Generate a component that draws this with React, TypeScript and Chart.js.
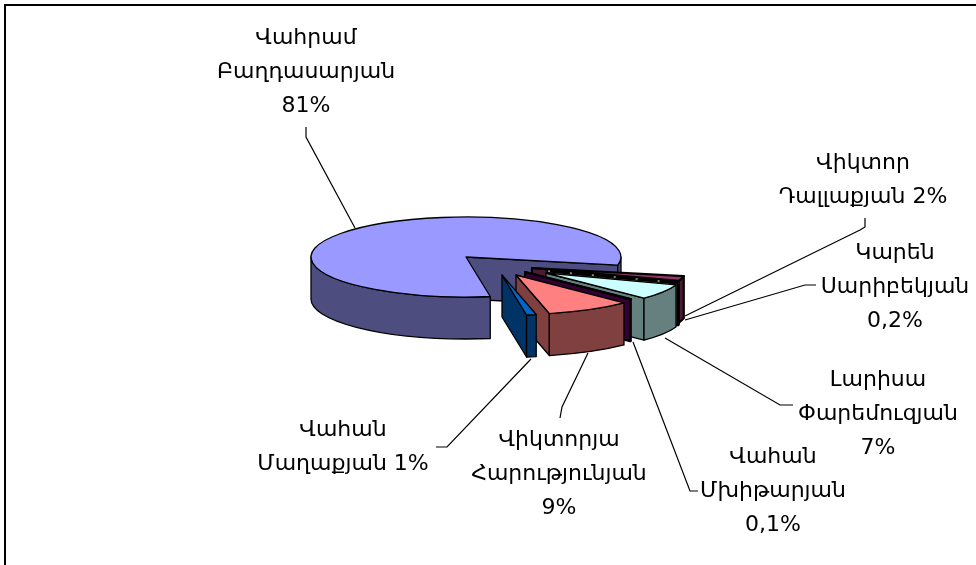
import React, { useEffect, useRef } from "react";
import { Chart, registerables } from "chart.js";

Chart.register(...registerables);

const categories = [
  "Վահրամ Բաղդասարյան",
  "Վիկտոր Դալլաքյան",
  "Կարեն Սարիբեկյան",
  "Լարիսա Փարեմուզյան",
  "Վահան Մխիթարյան",
  "Վիկտորյա Հարությունյան",
  "Վահան Մաղաքյան",
];
const shares = [81, 2, 0.2, 7, 0.1, 9, 1];
const topColors = ["#9999FF", "#993366", "#FFFFCC", "#CCFFFF", "#660066", "#FF8080", "#0066CC"];
const sideColors = ["#4D4D80", "#4D1A33", "#808066", "#668080", "#330033", "#804040", "#003366"];

const labelLines = [
  ["Վահրամ", "Բաղդասարյան", "81%"],
  ["Վիկտոր", "Դալլաքյան 2%"],
  ["Կարեն", "Սարիբեկյան", "0,2%"],
  ["Լարիսա", "Փարեմուզյան", "7%"],
  ["Վահան", "Մխիթարյան", "0,1%"],
  ["Վիկտորյա", "Հարությունյան", "9%"],
  ["Վահան", "Մաղաքյան 1%"],
];

// layout only
const labelCenters = [[306, 38], [863, 163], [895, 253], [878, 380], [773, 457], [559, 440], [343, 430]];
const leaders = [
  [[355, 228], [306, 137], [306, 127]],
  [[685, 316], [860, 230], [865, 227], [865, 218]],
  [[685, 320], [805, 285], [816, 285]],
  [[665, 338], [780, 405], [793, 405]],
  [[633, 342], [690, 491], [698, 491]],
  [[588, 353], [562, 407], [560, 418]],
  [[531, 359], [447, 447], [436, 447]],
];
const apexOffsets = [[0, 0], [66, 11], [82, 14], [80, 16], [59, 15], [50, 18], [36, 18]];
const radii = [155, 155, 138, 138, 149, 153, 157];
const strokeWidths = [1.3, 2.2, 2.6, 1.3, 2, 1.3, 1.3];
const TILT = 0.258;
const DEPTH = 42;

const pie3d = {
  id: "pie3d",
  beforeDatasetDraw(chart: any) {
    const ctx: CanvasRenderingContext2D = chart.ctx;
    const arcs = chart.getDatasetMeta(0).data;
    ctx.save();
    ctx.lineJoin = "round";
    ctx.strokeStyle = "#000";

    arcs.forEach((arc: any, i: number) => {
      ctx.lineWidth = strokeWidths[i];
      const cx = arc.x + apexOffsets[i][0];
      const cy = arc.y + apexOffsets[i][1];
      const R = radii[i];
      const a0 = arc.startAngle;
      const a1 = arc.endAngle;
      const pt = (a: number): [number, number] => [cx + R * Math.cos(a), cy + R * TILT * Math.sin(a)];

      const cut = (a: number) => {
        const p = pt(a);
        ctx.beginPath();
        ctx.moveTo(cx, cy);
        ctx.lineTo(p[0], p[1]);
        ctx.lineTo(p[0], p[1] + DEPTH);
        ctx.lineTo(cx, cy + DEPTH);
        ctx.closePath();
        ctx.fillStyle = sideColors[i];
        ctx.fill();
        ctx.stroke();
      };
      const rim = (a: number, b: number) => {
        ctx.beginPath();
        ctx.ellipse(cx, cy, R, R * TILT, 0, a, b);
        ctx.ellipse(cx, cy + DEPTH, R, R * TILT, 0, b, a, true);
        ctx.closePath();
        ctx.fillStyle = sideColors[i];
        ctx.fill();
        ctx.stroke();
      };

      if (Math.sin(a0 - Math.PI / 2) > 0) cut(a0);
      if (Math.sin(a1 + Math.PI / 2) > 0) cut(a1);
      [[-2 * Math.PI, -Math.PI], [0, Math.PI], [2 * Math.PI, 3 * Math.PI]].forEach(([lo, hi]) => {
        const a = Math.max(a0, lo);
        const b = Math.min(a1, hi);
        if (b > a) rim(a, b);
      });

      ctx.beginPath();
      ctx.moveTo(cx, cy);
      ctx.ellipse(cx, cy, R, R * TILT, 0, a0, a1);
      ctx.closePath();
      ctx.fillStyle = topColors[i];
      ctx.fill();
      ctx.stroke();

      if (i === 2) {
        const p = pt((a0 + a1) / 2);
        ctx.save();
        ctx.strokeStyle = "#A8A880";
        ctx.lineWidth = 1.5;
        ctx.setLineDash([2, 20]);
        ctx.beginPath();
        ctx.moveTo(cx, cy);
        ctx.lineTo(p[0], p[1]);
        ctx.stroke();
        ctx.restore();
      }
    });
    ctx.restore();
    return false;
  },
  afterDatasetsDraw(chart: any) {
    const ctx: CanvasRenderingContext2D = chart.ctx;
    ctx.save();
    ctx.strokeStyle = "#000";
    ctx.lineWidth = 2;
    ctx.strokeRect(5, 5, 2000, 2000);

    ctx.lineWidth = 1.2;
    leaders.forEach((pts) => {
      ctx.beginPath();
      pts.forEach((p, j) => (j ? ctx.lineTo(p[0], p[1]) : ctx.moveTo(p[0], p[1])));
      ctx.stroke();
    });

    ctx.fillStyle = "#000";
    ctx.font = '22px "DejaVu Sans"';
    ctx.textAlign = "center";
    ctx.textBaseline = "middle";
    labelLines.forEach((lines, i) => {
      lines.forEach((t, j) => ctx.fillText(t, labelCenters[i][0], labelCenters[i][1] + j * 34));
    });
    ctx.restore();
  },
};

export default function App() {
  const ref = useRef<HTMLCanvasElement>(null);
  useEffect(() => {
    document.body.style.margin = "0";
    document.body.style.background = "#fff";
    const chart = new Chart(ref.current!, {
      type: "pie",
      data: {
        labels: categories,
        datasets: [{ data: shares, backgroundColor: topColors, radius: 155 } as any],
      },
      options: {
        responsive: false,
        animation: false,
        rotation: 171,
        layout: { padding: { left: 0, right: 44, top: 0, bottom: 51 } },
        plugins: { legend: { display: false }, tooltip: { enabled: false } },
      } as any,
      plugins: [pie3d as any],
    });
    return () => chart.destroy();
  }, []);
  return <canvas ref={ref} width={976} height={565} style={{ display: "block" }} />;
}
